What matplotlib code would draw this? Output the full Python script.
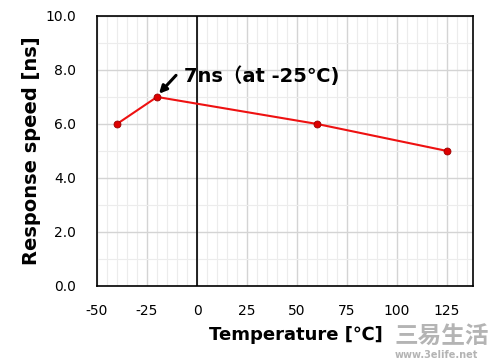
import matplotlib.pyplot as plt
from matplotlib.ticker import MultipleLocator

temps = [-40, -20, 60, 125]
speed = [6.0, 7.0, 6.0, 5.0]
xticks = [-50, -25, 0, 25, 50, 75, 100, 125]
yticks = [0.0, 2.0, 4.0, 6.0, 8.0, 10.0]

plt.rcParams['font.family'] = ['DejaVu Sans', 'Noto Sans CJK JP']
plt.rcParams['axes.unicode_minus'] = False

fig = plt.figure(figsize=(5, 3.62), dpi=100)
ax = fig.add_axes([0.194, 0.21, 0.752, 0.746])

ax.set_xlim(-50, 138)
ax.set_ylim(0, 10)
ax.set_xticks(xticks)
ax.set_yticks(yticks)
ax.set_yticklabels(['%.1f' % v for v in yticks])
ax.xaxis.set_minor_locator(MultipleLocator(5))
ax.yaxis.set_minor_locator(MultipleLocator(1))
ax.grid(which='major', color='#d4d4d4', lw=1.0)
ax.grid(which='minor', color='#ececec', lw=0.8)
ax.set_axisbelow(True)
ax.tick_params(which='both', length=0, labelsize=10)
ax.tick_params(axis='x', pad=13)
ax.tick_params(axis='y', pad=15)
for s in ax.spines.values():
    s.set_color('black')
    s.set_linewidth(1.2)

ax.axvline(0, color='black', lw=1.2)

ax.plot(temps, speed, color='#ee1111', lw=1.5, marker='o', ms=5,
        mfc='#dd0000', mec='#990000', mew=0.6, zorder=3)

# arrow and label
ax.annotate('', xy=(-19, 7.12), xytext=(-10.5, 7.8),
            arrowprops=dict(arrowstyle='-|>', color='black', lw=2.2,
                            mutation_scale=11, shrinkA=0, shrinkB=0))
ax.text(-6.5, 7.78, '7ns（at -25℃)', fontsize=14, fontweight='bold',
        va='center', ha='left')

ax.set_xlabel('Temperature [℃]', fontsize=13, fontweight='bold', labelpad=4)
ax.xaxis.set_label_coords(0.53, -0.15)
ax.set_ylabel('Response speed [ns]', fontsize=14, fontweight='bold', labelpad=3)

fig.text(0.79, 0.05, '三易生活', fontsize=17, color='#b4b4b4',
         fontweight='bold', family='Noto Sans CJK SC')
fig.text(0.79, 0.012, 'www.3elife.net', fontsize=7, color='#b4b4b4', fontweight='bold')

fig.savefig('out.png', dpi=100)
